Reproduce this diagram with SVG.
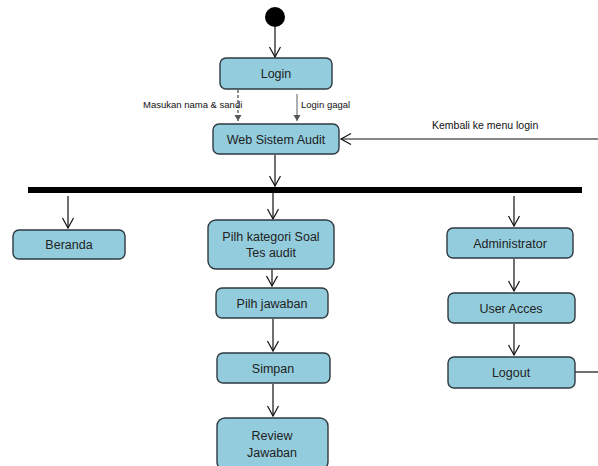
<svg xmlns="http://www.w3.org/2000/svg" width="598" height="466" viewBox="0 0 598 466">
<style>
.n rect{fill:#93CDDD;stroke:#2e3a40;stroke-width:1.4}
.n text{font-family:"Liberation Sans",Arial,sans-serif;font-size:12.5px;fill:#222;text-anchor:middle}
.c line,.c path{stroke:#111;stroke-width:1.2;fill:none}
.lbl{font-family:"Liberation Sans",Arial,sans-serif;font-size:9.5px;fill:#111}
</style>
<defs>
<marker id="a" markerUnits="userSpaceOnUse" markerWidth="14" markerHeight="14" refX="11" refY="6" orient="auto">
<path d="M1,0.5 L11,6 L1,11.5" fill="none" stroke="#111" stroke-width="1.2"/>
</marker>
<marker id="s" markerUnits="userSpaceOnUse" markerWidth="8" markerHeight="8" refX="6" refY="3.5" orient="auto">
<path d="M0,0 L6,3.5 L0,7 Z" fill="#555"/>
</marker>
</defs>
<g id="start"><circle cx="275" cy="17" r="10" fill="#000"/></g>
<g id="bar"><rect x="28" y="187" width="554" height="6" fill="#000"/></g>
<g class="c" id="connectors">
<line x1="275" y1="27" x2="275" y2="57" marker-end="url(#a)"/>
<line x1="238" y1="90" x2="238" y2="121" stroke-dasharray="3,2" style="stroke:#444" marker-end="url(#s)"/>
<line x1="297" y1="94" x2="297" y2="121" style="stroke:#777" marker-end="url(#s)"/>
<line x1="598" y1="139" x2="341" y2="139" marker-end="url(#a)"/>
<line x1="275" y1="155" x2="275" y2="186" marker-end="url(#a)"/>
<line x1="68" y1="196" x2="68" y2="228" marker-end="url(#a)"/>
<line x1="273" y1="193" x2="273" y2="219" marker-end="url(#a)"/>
<line x1="272" y1="252" x2="272" y2="286" marker-end="url(#a)"/>
<line x1="273" y1="319" x2="273" y2="351" marker-end="url(#a)"/>
<line x1="273" y1="384" x2="273" y2="416" marker-end="url(#a)"/>
<line x1="514" y1="196" x2="514" y2="226" marker-end="url(#a)"/>
<line x1="514" y1="259" x2="514" y2="291" marker-end="url(#a)"/>
<line x1="514" y1="324" x2="514" y2="355" marker-end="url(#a)"/>
<line x1="575" y1="372" x2="598" y2="372"/>
</g>
<text class="lbl" x="143" y="108">Masukan nama &amp; sandi</text>
<text class="lbl" x="301" y="108">Login gagal</text>
<text class="lbl" x="432" y="129" style="font-size:10.5px">Kembali ke menu login</text>
<g class="n" id="login"><rect x="220" y="58" width="112" height="31" rx="6"/><text x="276" y="78">Login</text></g>
<g class="n" id="web"><rect x="213" y="124" width="126" height="30" rx="6"/><text x="276" y="144">Web Sistem Audit</text></g>
<g class="n" id="beranda"><rect x="13" y="230" width="112" height="29" rx="6"/><text x="69" y="249">Beranda</text></g>
<g class="n" id="kategori"><rect x="208" y="220" width="126" height="49" rx="8"/><text x="271" y="241">Pilh kategori Soal</text><text x="271" y="257">Tes audit</text></g>
<g class="n" id="jawaban"><rect x="216" y="288" width="112" height="30" rx="6"/><text x="272" y="308">Pilh jawaban</text></g>
<g class="n" id="simpan"><rect x="217" y="353" width="113" height="30" rx="6"/><text x="273" y="373">Simpan</text></g>
<g class="n" id="review"><rect x="217" y="418" width="111" height="52" rx="8"/><text x="272" y="440">Review</text><text x="272" y="457">Jawaban</text></g>
<g class="n" id="admin"><rect x="447" y="228" width="126" height="30" rx="6"/><text x="510" y="248">Administrator</text></g>
<g class="n" id="user"><rect x="448" y="293" width="127" height="30" rx="6"/><text x="511" y="313">User Acces</text></g>
<g class="n" id="logout"><rect x="448" y="357" width="127" height="31" rx="6"/><text x="511" y="377">Logout</text></g>
</svg>
